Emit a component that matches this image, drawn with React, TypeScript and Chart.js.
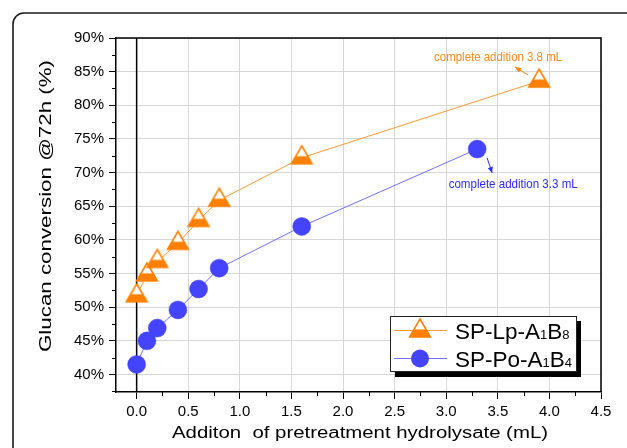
import React, { useEffect, useRef } from "react";
import { Chart, registerables } from "chart.js";

Chart.register(...registerables);

// ---- data ----
const lpX = [0, 0.1, 0.2, 0.4, 0.6, 0.8, 1.6, 3.9];
const lpY = [51.7, 54.8, 56.8, 59.5, 62.9, 65.9, 72.2, 83.6];
const poX = [0, 0.1, 0.2, 0.4, 0.6, 0.8, 1.6, 3.3];
const poY = [41.5, 45.0, 46.9, 49.6, 52.7, 55.8, 62.0, 73.5];
const xTicks = [0, 0.5, 1, 1.5, 2, 2.5, 3, 3.5, 4, 4.5];
const xMinorTicks = [0.25, 0.75, 1.25, 1.75, 2.25, 2.75, 3.25, 3.75, 4.25];
const yTicks = [40, 45, 50, 55, 60, 65, 70, 75, 80, 85, 90];
const yMinorTicks = [37.5, 42.5, 47.5, 52.5, 57.5, 62.5, 67.5, 72.5, 77.5, 82.5, 87.5];
const lpLegend: [string, boolean][] = [["SP-Lp-A", false], ["1", true], ["B", false], ["8", true]];
const poLegend: [string, boolean][] = [["SP-Po-A", false], ["1", true], ["B", false], ["4", true]];
const xTitle = "Additon  of pretreatment hydrolysate (mL)";
const yTitle = "Glucan conversion @72h (%)";
const lpNote = "complete addition 3.8 mL";
const poNote = "complete addition 3.3 mL";

const ORANGE = "#ff8000";
const ORANGE_LINE = "#ff9a33";
const ORANGE_TEXT = "#ff8a1c";
const BLUE = "#4444ff";
const BLUE_LINE = "#7070ff";
const BLUE_TEXT = "#2a2aff";
const FONT = "'Liberation Sans', Arial, Helvetica, sans-serif";

function makeTriangle(): HTMLCanvasElement {
  const c = document.createElement("canvas");
  c.width = 30;
  c.height = 30;
  const g = c.getContext("2d")!;
  const cx = 15, cy = 15, r = 12;
  const pts: [number, number][] = [];
  for (let i = 0; i < 3; i++) {
    const a = (i * 2 * Math.PI) / 3;
    pts.push([cx + Math.sin(a) * r, cy - Math.cos(a) * r]);
  }
  const path = () => {
    g.beginPath();
    g.moveTo(pts[0][0], pts[0][1]);
    g.lineTo(pts[1][0], pts[1][1]);
    g.lineTo(pts[2][0], pts[2][1]);
    g.closePath();
  };
  path();
  g.fillStyle = "#ffffff";
  g.fill();
  g.save();
  path();
  g.clip();
  g.fillStyle = ORANGE;
  const base = cy + r / 2;
  g.fillRect(0, base - 0.42 * 1.5 * r, 30, 30);
  g.restore();
  path();
  g.lineWidth = 1.6;
  g.lineJoin = "miter";
  g.strokeStyle = ORANGE;
  g.stroke();
  return c;
}

function arrow(ctx: CanvasRenderingContext2D, x1: number, y1: number, x2: number, y2: number, color: string) {
  ctx.save();
  ctx.strokeStyle = color;
  ctx.fillStyle = color;
  ctx.lineWidth = 1;
  ctx.beginPath();
  ctx.moveTo(x1, y1);
  ctx.lineTo(x2, y2);
  ctx.stroke();
  const ang = Math.atan2(y2 - y1, x2 - x1);
  const L = 6, W = 2.6;
  ctx.beginPath();
  ctx.moveTo(x2, y2);
  ctx.lineTo(x2 - L * Math.cos(ang) + W * Math.sin(ang), y2 - L * Math.sin(ang) - W * Math.cos(ang));
  ctx.lineTo(x2 - L * Math.cos(ang) - W * Math.sin(ang), y2 - L * Math.sin(ang) + W * Math.cos(ang));
  ctx.closePath();
  ctx.fill();
  ctx.restore();
}

function drawLegendText(ctx: CanvasRenderingContext2D, parts: [string, boolean][], x: number, y: number) {
  let cx = x;
  ctx.fillStyle = "#000";
  ctx.textAlign = "left";
  ctx.textBaseline = "alphabetic";
  for (const [t, sub] of parts) {
    ctx.font = (sub ? "13px " : "22.5px ") + FONT;
    ctx.fillText(t, cx, y);
    cx += ctx.measureText(t).width;
  }
}

function stretchedText(ctx: CanvasRenderingContext2D, text: string, x: number, y: number, width: number) {
  const w = ctx.measureText(text).width;
  ctx.save();
  ctx.translate(x, y);
  ctx.scale(width / w, 1);
  ctx.fillText(text, 0, 0);
  ctx.restore();
}

export default function App() {
  const ref = useRef<HTMLCanvasElement | null>(null);

  useEffect(() => {
    const canvas = ref.current!;
    const tri = makeTriangle();

    const custom = {
      id: "custom",
      beforeDraw(chart: any) {
        const ctx = chart.ctx as CanvasRenderingContext2D;
        ctx.save();
        ctx.fillStyle = "#fff";
        ctx.fillRect(0, 0, chart.width, chart.height);
        ctx.strokeStyle = "#1a1a1a";
        ctx.lineWidth = 1.6;
        ctx.beginPath();
        (ctx as any).roundRect(13, 13, 700, 600, 11);
        ctx.stroke();
        ctx.restore();
      },
      beforeDatasetsDraw(chart: any) {
        const ctx = chart.ctx as CanvasRenderingContext2D;
        const xs = chart.scales.x;
        const a = chart.chartArea;
        const x0 = xs.getPixelForValue(0);
        ctx.save();
        ctx.strokeStyle = "#000";
        ctx.lineWidth = 1.5;
        ctx.beginPath();
        ctx.moveTo(x0, a.top);
        ctx.lineTo(x0, a.bottom);
        ctx.stroke();
        ctx.restore();
      },
      afterDraw(chart: any) {
        const ctx = chart.ctx as CanvasRenderingContext2D;
        const a = chart.chartArea;
        const xs = chart.scales.x;
        const ys = chart.scales.y;
        ctx.save();
        ctx.strokeStyle = "#000";
        ctx.lineWidth = 1.5;
        ctx.beginPath();
        ctx.moveTo(a.left, a.top);
        ctx.lineTo(a.right, a.top);
        ctx.lineTo(a.right, a.bottom);
        ctx.stroke();
        ctx.lineWidth = 1;
        ctx.beginPath();
        for (const v of xMinorTicks) {
          const px = Math.round(xs.getPixelForValue(v)) + 0.5;
          ctx.moveTo(px, a.bottom);
          ctx.lineTo(px, a.bottom + 4);
        }
        for (const v of yMinorTicks) {
          const py = Math.round(ys.getPixelForValue(v)) + 0.5;
          ctx.moveTo(a.left, py);
          ctx.lineTo(a.left - 4, py);
        }
        ctx.stroke();

        // axis titles
        ctx.fillStyle = "#000";
        ctx.textBaseline = "alphabetic";
        ctx.textAlign = "center";
        ctx.font = "16px " + FONT;
        stretchedText(ctx, xTitle, 360, 438, 376);

        ctx.font = "17px " + FONT;
        ctx.save();
        ctx.translate(50.5, 206);
        ctx.rotate(-Math.PI / 2);
        stretchedText(ctx, yTitle, 0, 0, 292);
        ctx.restore();

        // annotations
        const lpPx = xs.getPixelForValue(lpX[lpX.length - 1]);
        const lpPy = ys.getPixelForValue(lpY[lpY.length - 1]);
        ctx.font = "13px " + FONT;
        ctx.textAlign = "center";
        ctx.textBaseline = "middle";
        ctx.fillStyle = ORANGE_TEXT;
        stretchedText(ctx, lpNote, lpPx - 41, lpPy - 24, 128);
        arrow(ctx, lpPx - 11, lpPy - 6, lpPx - 24, lpPy - 14, ORANGE);

        const poPx = xs.getPixelForValue(poX[poX.length - 1]);
        const poPy = ys.getPixelForValue(poY[poY.length - 1]);
        ctx.fillStyle = BLUE_TEXT;
        stretchedText(ctx, poNote, poPx + 36, poPy + 35, 129);
        arrow(ctx, poPx + 10, poPy + 9, poPx + 15, poPy + 24, BLUE_TEXT);

        // legend
        ctx.fillStyle = "#000";
        ctx.fillRect(395, 321, 186, 56);
        ctx.fillStyle = "#fff";
        ctx.fillRect(390, 316, 186, 55);
        ctx.strokeStyle = "#222";
        ctx.lineWidth = 1;
        ctx.strokeRect(390.5, 316.5, 186, 55);

        ctx.strokeStyle = ORANGE_LINE;
        ctx.beginPath();
        ctx.moveTo(394, 330.5);
        ctx.lineTo(447, 330.5);
        ctx.stroke();
        ctx.drawImage(tri, 420 - 15, 331 - 15);

        ctx.strokeStyle = BLUE_LINE;
        ctx.beginPath();
        ctx.moveTo(394, 358.5);
        ctx.lineTo(447, 358.5);
        ctx.stroke();
        ctx.fillStyle = BLUE;
        ctx.beginPath();
        ctx.arc(420, 358.5, 9, 0, Math.PI * 2);
        ctx.fill();

        drawLegendText(ctx, lpLegend, 455, 339);
        drawLegendText(ctx, poLegend, 455, 367);
        ctx.restore();
      },
    };

    const chart = new Chart(canvas, {
      type: "scatter",
      data: {
        datasets: [
          {
            label: "SP-Lp-A1B8",
            data: lpX.map((x, i) => ({ x, y: lpY[i] })),
            showLine: true,
            borderColor: ORANGE_LINE,
            borderWidth: 1,
            pointStyle: tri as any,
            pointRadius: 12,
            backgroundColor: ORANGE,
          },
          {
            label: "SP-Po-A1B4",
            data: poX.map((x, i) => ({ x, y: poY[i] })),
            showLine: true,
            borderColor: BLUE_LINE,
            borderWidth: 1,
            pointStyle: "circle",
            pointRadius: 9,
            pointBackgroundColor: BLUE,
            pointBorderColor: BLUE,
            pointBorderWidth: 0.5,
          },
        ],
      },
      options: {
        responsive: false,
        animation: false,
        devicePixelRatio: 1,
        layout: { padding: { left: 0, top: 38, right: 26, bottom: 0 } },
        plugins: {
          legend: { display: false },
          tooltip: { enabled: false },
        },
        scales: {
          x: {
            type: "linear",
            min: -0.2,
            max: 4.5,
            afterBuildTicks: (s: any) => {
              s.ticks = xTicks.map((v) => ({ value: v }));
            },
            afterFit: (s: any) => {
              s.height = 56;
            },
            ticks: {
              callback: (v: any) => Number(v).toFixed(1),
              font: { family: FONT, size: 15 },
              color: "#000",
              padding: 4,
              maxRotation: 0,
              autoSkip: false,
            },
            grid: {
              color: "#d6d6d6",
              lineWidth: 1,
              tickColor: "#000",
              tickLength: 7,
            },
            border: { color: "#000", width: 1.5 },
          },
          y: {
            type: "linear",
            min: 37.4,
            max: 90,
            afterBuildTicks: (s: any) => {
              s.ticks = yTicks.map((v) => ({ value: v }));
            },
            afterFit: (s: any) => {
              s.width = 116;
            },
            ticks: {
              callback: (v: any) => `${v}%`,
              font: { family: FONT, size: 15 },
              color: "#000",
              padding: 5,
              autoSkip: false,
            },
            grid: {
              color: "#d6d6d6",
              lineWidth: 1,
              tickColor: "#000",
              tickLength: 7,
            },
            border: { color: "#000", width: 1.5 },
          },
        },
      },
      plugins: [custom],
    });

    return () => chart.destroy();
  }, []);

  return (
    <div style={{ position: "absolute", left: 0, top: 0, width: 627, height: 448 }}>
      <canvas ref={ref} width={627} height={448} style={{ width: 627, height: 448, display: "block" }} />
    </div>
  );
}
